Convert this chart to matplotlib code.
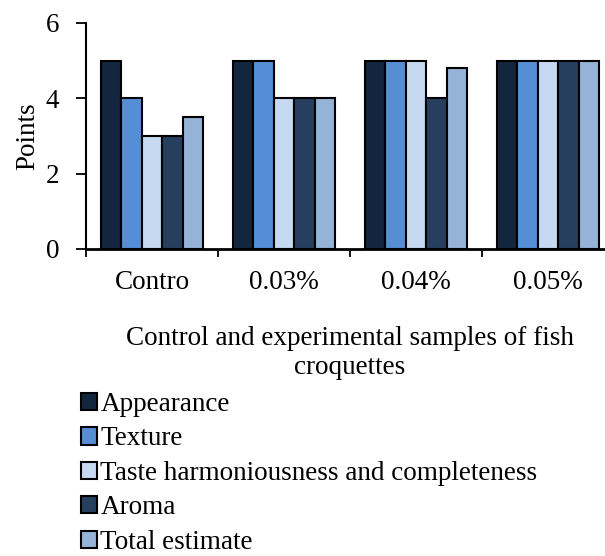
import matplotlib
matplotlib.use("Agg")
import matplotlib.pyplot as plt
import numpy as np

categories = ["Contro", "0.03%", "0.04%", "0.05%"]
series_names = ["Appearance", "Texture", "Taste harmoniousness and completeness", "Aroma", "Total estimate"]
appearance = [5, 5, 5, 5]
texture = [4, 5, 5, 5]
taste = [3, 4, 5, 5]
aroma = [3, 4, 4, 5]
total = [3.5, 4, 4.8, 5]
colors = ["#13263F", "#558ED5", "#C6D9F1", "#273F5F", "#95B3D7"]

plt.rcParams['font.family'] = ['Liberation Serif', 'DejaVu Serif']

fig = plt.figure(figsize=(6.05, 5.56), dpi=100)
ax = fig.add_axes([86/605, 1-249/556, (614-86)/605, (249-23)/556])

data = [appearance, texture, taste, aroma, total]
n = len(data)
bw = 0.155
x = np.arange(len(categories))
handles = []
for i, (vals, c, name) in enumerate(zip(data, colors, series_names)):
    h = ax.bar(x + (i - (n-1)/2)*bw, vals, width=bw, color=c, edgecolor="black",
               linewidth=1.5, label=name, zorder=3)
    handles.append(h)

ax.set_xlim(-0.5, len(categories)-0.5)
ax.set_ylim(0, 6)
ax.set_yticks([0, 2, 4, 6])
ax.tick_params(axis='y', labelsize=19.5, length=7.2, width=1.3, pad=12)
ax.set_xticks(x)
ax.set_xticklabels(categories)
ax.tick_params(axis='x', which='major', length=0, labelsize=19.5, pad=15)
ax.set_xticks(np.arange(-0.5, len(categories)-0.5, 1), minor=True)
ax.tick_params(axis='x', which='minor', length=6, width=1.3, direction='out')
for s in ["top", "right"]:
    ax.spines[s].set_visible(False)
ax.spines["left"].set_linewidth(1.5)
ax.spines["bottom"].set_linewidth(2)
ax.spines["bottom"].set_zorder(5)
ax.set_ylabel("Points", fontsize=19.5, labelpad=4)

fig.text(350/605, 1-353/556, "Control and experimental samples of fish\ncroquettes",
         ha="center", va="center", fontsize=19.5, linespacing=1.22)

leg = fig.legend(handles=handles, labels=series_names, loc="upper left",
                 bbox_to_anchor=(81/605, 1-392/556), frameon=False, fontsize=19.5,
                 handlelength=0.6, handleheight=0.6, handletextpad=0.12,
                 labelspacing=0.35, borderpad=0, borderaxespad=0)
for p in leg.get_patches():
    p.set_linewidth(1.5)

fig.savefig("out.png", dpi=100)
